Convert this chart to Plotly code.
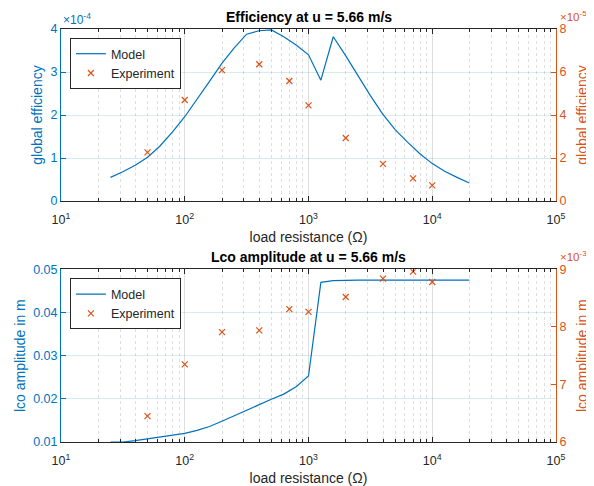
import plotly.graph_objects as go

BLUE = "#0072BD"
ORANGE = "#D95319"
DARK = "#262626"

# Model resistance samples (Ohm)
model_R = [25.1, 31.6, 39.8, 50.1, 63.1, 79.4, 100, 125.9, 158.5, 199.5,
           251.2, 316.2, 398.1, 501.2, 631.0, 794.3, 1000, 1258.9, 1584.9, 1995.3,
           2511.9, 3162.3, 3981.1, 5011.9, 6309.6, 7943.3, 10000, 12589, 15849, 19953]
# Model global efficiency (left axis)
model_eff = [0.55e-4, 0.68e-4, 0.83e-4, 1.02e-4, 1.28e-4, 1.60e-4, 1.96e-4, 2.36e-4, 2.78e-4, 3.20e-4,
             3.56e-4, 3.88e-4, 3.96e-4, 3.98e-4, 3.82e-4, 3.63e-4, 3.40e-4, 2.81e-4, 3.82e-4, 3.38e-4,
             2.90e-4, 2.45e-4, 2.02e-4, 1.66e-4, 1.37e-4, 1.10e-4, 0.87e-4, 0.69e-4, 0.55e-4, 0.42e-4]
# Model LCO amplitude (left axis, m)
model_lco = [0.0100, 0.0100, 0.0103, 0.0107, 0.0111, 0.0115, 0.0120, 0.0127, 0.0136, 0.0148,
             0.0161, 0.0174, 0.0187, 0.0199, 0.0211, 0.0228, 0.0253, 0.0470, 0.0474, 0.0475,
             0.0475, 0.0475, 0.0475, 0.0475, 0.0475, 0.0475, 0.0475, 0.0475, 0.0475, 0.0475]

# Experiment
exp_R = [50, 100, 200, 400, 700, 1000, 2000, 4000, 7000, 10000]
exp_eff = [2.26e-5, 4.70e-5, 6.09e-5, 6.36e-5, 5.58e-5, 4.45e-5, 2.93e-5, 1.73e-5, 1.05e-5, 0.73e-5]
exp_lco = [6.45e-3, 7.35e-3, 7.91e-3, 7.94e-3, 8.31e-3, 8.26e-3, 8.52e-3, 8.84e-3, 8.96e-3, 8.78e-3]

x_tickvals = [10, 100, 1000, 10000, 100000]
x_ticktext = ["10<sup>1</sup>", "10<sup>2</sup>", "10<sup>3</sup>", "10<sup>4</sup>", "10<sup>5</sup>"]
x_minor = [m * 10 ** d for d in range(1, 5) for m in range(2, 10)]

eff_left_ticks = [0, 1e-4, 2e-4, 3e-4, 4e-4]
eff_left_text = ["0", "1", "2", "3", "4"]
eff_right_ticks = [0, 2e-5, 4e-5, 6e-5, 8e-5]
eff_right_text = ["0", "2", "4", "6", "8"]
lco_left_ticks = [0.01, 0.02, 0.03, 0.04, 0.05]
lco_left_text = ["0.01", "0.02", "0.03", "0.04", "0.05"]
lco_right_ticks = [6e-3, 7e-3, 8e-3, 9e-3]
lco_right_text = ["6", "7", "8", "9"]

FONT = "Liberation Sans, Arial, sans-serif"
TICK = 12.5
LAB = 14

fig = go.Figure()
fig.add_trace(go.Scatter(x=model_R, y=model_eff, mode="lines", name="Model",
                         line=dict(color=BLUE, width=1.2), xaxis="x", yaxis="y", legend="legend"))
fig.add_trace(go.Scatter(x=exp_R, y=exp_eff, mode="markers", name="Experiment",
                         marker=dict(symbol="x-thin", size=6, line=dict(color=ORANGE, width=1.2), color=ORANGE),
                         xaxis="x", yaxis="y2", legend="legend"))
fig.add_trace(go.Scatter(x=model_R, y=model_lco, mode="lines", name="Model",
                         line=dict(color=BLUE, width=1.2), xaxis="x2", yaxis="y3", legend="legend2"))
fig.add_trace(go.Scatter(x=exp_R, y=exp_lco, mode="markers", name="Experiment",
                         marker=dict(symbol="x-thin", size=6, line=dict(color=ORANGE, width=1.2), color=ORANGE),
                         xaxis="x2", yaxis="y4", legend="legend2"))

top_dom = [0.5835, 1.0]
bot_dom = [0.0, 0.418]

def xax(anchor):
    return dict(type="log", range=[1, 5], tickvals=x_tickvals, ticktext=x_ticktext, domain=[0, 1],
                ticks="inside", ticklen=5, tickcolor=DARK, showline=True, linecolor=DARK, linewidth=1,
                mirror="ticks", showgrid=True, gridcolor="rgba(0,0,0,0.13)", gridwidth=1,
                minor=dict(tickvals=x_minor, ticks="inside", ticklen=3, tickcolor=DARK,
                           showgrid=True, gridcolor="rgba(0,0,0,0.13)", griddash="dot", gridwidth=1),
                tickfont=dict(size=TICK, color=DARK, family=FONT), anchor=anchor, zeroline=False,
                ticklabelstandoff=7,
                title=dict(text="load resistance (\u03a9)", font=dict(size=LAB, color=DARK, family=FONT), standoff=6))

def yl(dom, rng, tv, tt, title, anchor):
    return dict(domain=dom, range=rng, tickvals=tv, ticktext=tt, ticks="inside", ticklen=5,
                tickcolor=BLUE, showline=True, linecolor=BLUE, linewidth=1, showgrid=True,
                gridcolor="rgba(0,114,189,0.15)", zeroline=False, anchor=anchor,
                tickfont=dict(size=TICK, color=BLUE, family=FONT),
                title=dict(text=title, font=dict(size=LAB, color=BLUE, family=FONT), standoff=4))

def yr(rng, tv, tt, title, overlay, anchor):
    return dict(overlaying=overlay, side="right", range=rng, tickvals=tv, ticktext=tt, ticks="inside",
                ticklen=5, tickcolor=ORANGE, showline=True, linecolor=ORANGE, linewidth=1, showgrid=False,
                zeroline=False, anchor=anchor,
                tickfont=dict(size=TICK, color=ORANGE, family=FONT),
                title=dict(text=title, font=dict(size=LAB, color=ORANGE, family=FONT), standoff=11))

legend_style = dict(bgcolor="white", bordercolor=DARK, borderwidth=1,
                    font=dict(size=12.5, color=DARK, family=FONT), xanchor="left", yanchor="top",
                    tracegroupgap=0, itemwidth=30)

fig.update_layout(
    width=586, height=478,
    margin=dict(l=53, r=38, t=21, b=44, autoexpand=False),
    paper_bgcolor="white", plot_bgcolor="white",
    font=dict(family=FONT, color=DARK),
    showlegend=True,
    xaxis=xax("y"),
    xaxis2=xax("y3"),
    yaxis=yl(top_dom, [0, 4e-4], eff_left_ticks, eff_left_text, "global efficiency", "x"),
    yaxis2=yr([0, 8e-5], eff_right_ticks, eff_right_text, "global efficiency", "y", "x"),
    yaxis3=yl(bot_dom, [0.01, 0.05], lco_left_ticks, lco_left_text, "lco amplitude in m", "x2"),
    yaxis4=yr([6e-3, 9e-3], lco_right_ticks, lco_right_text, "lco amplitude in m", "y3", "x2"),
    legend=legend_style | dict(x=0.018, y=0.978),
    legend2=legend_style | dict(x=0.018, y=0.396),
    annotations=[
        dict(text="<b>Efficiency at u = 5.66 m/s</b>", x=0.5, y=1.0, xref="paper", yref="paper",
             xanchor="center", yanchor="bottom", yshift=2, showarrow=False,
             font=dict(size=LAB, color="black", family=FONT)),
        dict(text="<b>Lco amplitude at u = 5.66 m/s</b>", x=0.5, y=bot_dom[1], xref="paper", yref="paper",
             xanchor="center", yanchor="bottom", yshift=2, showarrow=False,
             font=dict(size=LAB, color="black", family=FONT)),
        dict(text="\u00d710<sup>-4</sup>", x=0.0, y=1.0, xref="paper", yref="paper",
             xanchor="left", yanchor="bottom", showarrow=False,
             font=dict(size=12, color=BLUE, family=FONT)),
        dict(text="\u00d710<sup>-5</sup>", x=1.007, y=1.0, xref="paper", yref="paper",
             xanchor="left", yanchor="bottom", yshift=5, showarrow=False, borderpad=0,
             font=dict(size=11.5, color=ORANGE, family=FONT)),
        dict(text="\u00d710<sup>-3</sup>", x=1.007, y=bot_dom[1], xref="paper", yref="paper",
             xanchor="left", yanchor="bottom", yshift=5, showarrow=False, borderpad=0,
             font=dict(size=11.5, color=ORANGE, family=FONT)),
    ],
)

fig.write_html("out.html")
